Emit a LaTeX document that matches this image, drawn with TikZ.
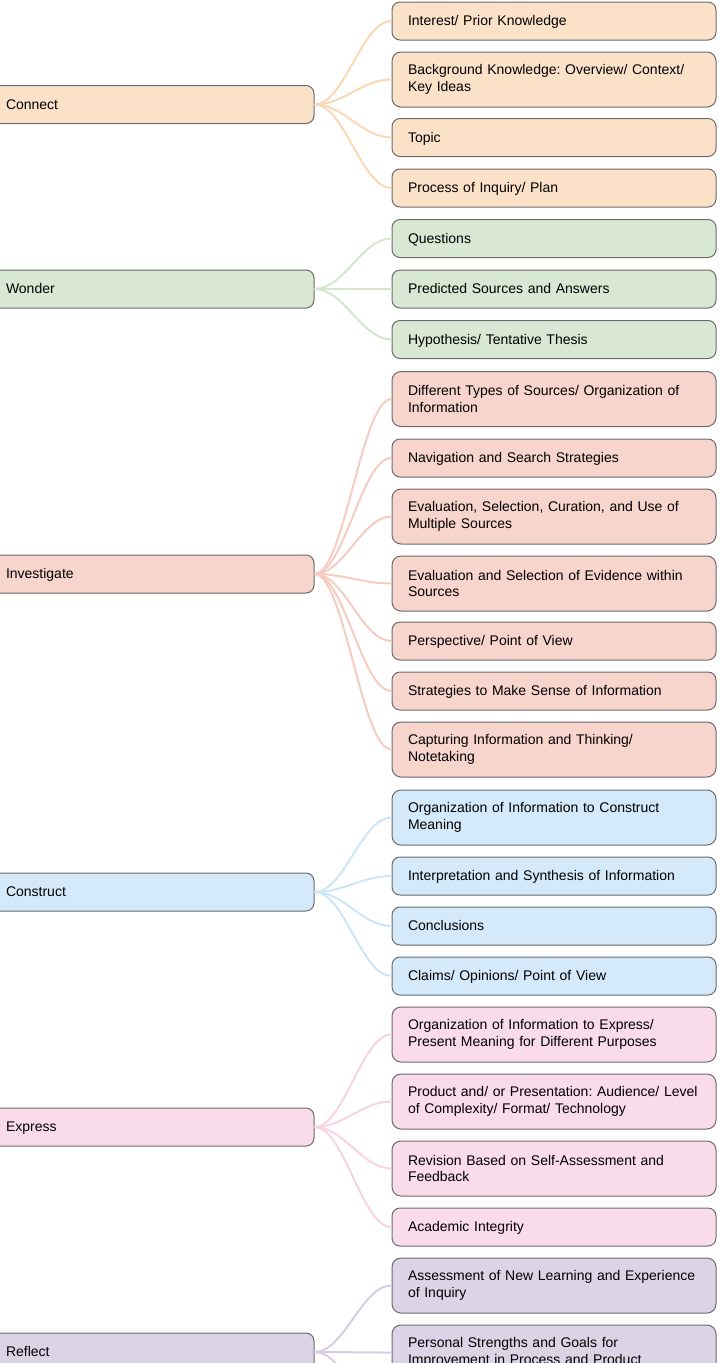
\documentclass[tikz,border=0pt]{standalone}
\usepackage{fontspec}
\setmainfont{Liberation Sans}
\frenchspacing
\definecolor{boxline}{HTML}{6B6B6B}
\definecolor{connectfill}{HTML}{FCE1C9}
\definecolor{connectline}{HTML}{FAD8B6}
\definecolor{wonderfill}{HTML}{D8E8D3}
\definecolor{wonderline}{HTML}{D4E6CD}
\definecolor{investfill}{HTML}{F7D4CC}
\definecolor{investline}{HTML}{F5CCC1}
\definecolor{constructfill}{HTML}{D4E9F9}
\definecolor{constructline}{HTML}{CCE6F8}
\definecolor{expressfill}{HTML}{F9DBEA}
\definecolor{expressline}{HTML}{F8D3E3}
\definecolor{reflectfill}{HTML}{DDD3E7}
\definecolor{reflectline}{HTML}{D8CCE5}
\begin{document}
\begin{tikzpicture}[x=1pt, y=-1pt,
		box/.style={draw=boxline, line width=1pt, rounded corners=8pt, text width=292pt, inner xsep=16pt, inner ysep=2pt, align=left, minimum height=38pt, font=\fontsize{14}{16.8}\selectfont},
		leaf/.style={box, text height=11.5pt, text depth=2.5pt},
		tall/.style={box, minimum height=55pt, rounded corners=9pt},
		link/.style={line width=2pt}]
				\useasboundingbox (0,0) rectangle (720,1363);
				\clip (0,0) rectangle (720,1363);
				% Connect
				\node[leaf, fill=connectfill] (connect) at (152,104.5) {Connect};
				\node[leaf, fill=connectfill] (c1) at (554,21) {Interest/ Prior Knowledge};
				\node[tall, fill=connectfill] (c2) at (554,79.5) {Background Knowledge: Overview/ Context/\\Key Ideas};
				\node[leaf, fill=connectfill] (c3) at (554,137.5) {Topic};
				\node[leaf, fill=connectfill] (c4) at (554,188) {Process of Inquiry/ Plan};
				% Wonder
				\node[leaf, fill=wonderfill] (wonder) at (152,289) {Wonder};
				\node[leaf, fill=wonderfill] (w1) at (554,238.5) {Questions};
				\node[leaf, fill=wonderfill] (w2) at (554,289) {Predicted Sources and Answers};
				\node[leaf, fill=wonderfill] (w3) at (554,339.5) {Hypothesis/ Tentative Thesis};
				% Investigate
				\node[leaf, fill=investfill] (invest) at (152,574) {Investigate};
				\node[tall, fill=investfill] (i1) at (554,399) {Different Types of Sources/ Organization of\\Information};
				\node[leaf, fill=investfill] (i2) at (554,458) {Navigation and Search Strategies};
				\node[tall, fill=investfill] (i3) at (554,516.5) {Evaluation, Selection, Curation, and Use of\\Multiple Sources};
				\node[tall, fill=investfill] (i4) at (554,583.5) {Evaluation and Selection of Evidence within\\Sources};
				\node[leaf, fill=investfill] (i5) at (554,641) {Perspective/ Point of View};
				\node[leaf, fill=investfill] (i6) at (554,691) {Strategies to Make Sense of Information};
				\node[tall, fill=investfill] (i7) at (554,749.5) {Capturing Information and Thinking/\\Notetaking};
				% Construct
				\node[leaf, fill=constructfill] (construct) at (152,892) {Construct};
				\node[tall, fill=constructfill] (k1) at (554,817.5) {Organization of Information to Construct\\Meaning};
				\node[leaf, fill=constructfill] (k2) at (554,876) {Interpretation and Synthesis of Information};
				\node[leaf, fill=constructfill] (k3) at (554,926) {Conclusions};
				\node[leaf, fill=constructfill] (k4) at (554,976) {Claims/ Opinions/ Point of View};
				% Express
				\node[leaf, fill=expressfill] (express) at (152,1127) {Express};
				\node[tall, fill=expressfill] (e1) at (554,1034.5) {Organization of Information to Express/\\Present Meaning for Different Purposes};
				\node[tall, fill=expressfill] (e2) at (554,1101.5) {Product and/ or Presentation: Audience/ Level\\of Complexity/ Format/ Technology};
				\node[tall, fill=expressfill] (e3) at (554,1168.5) {Revision Based on Self-Assessment and\\Feedback};
				\node[leaf, fill=expressfill] (e4) at (554,1227) {Academic Integrity};
				% Reflect
				\node[leaf, fill=reflectfill] (reflect) at (152,1352) {Reflect};
				\node[tall, fill=reflectfill] (r1) at (554,1285.5) {Assessment of New Learning and Experience\\of Inquiry};
				\node[tall, fill=reflectfill] (r2) at (554,1352.5) {Personal Strengths and Goals for\\Improvement in Process and Product};
				\coordinate (r3) at (392,1419);
				% branches
				\draw[link, connectline] (connect.east) .. controls +(30,0) and +(-30,0) .. (c1.west);
				\draw[link, connectline] (connect.east) .. controls +(30,0) and +(-30,0) .. (c2.west);
				\draw[link, connectline] (connect.east) .. controls +(30,0) and +(-30,0) .. (c3.west);
				\draw[link, connectline] (connect.east) .. controls +(30,0) and +(-30,0) .. (c4.west);
				\draw[link, wonderline] (wonder.east) .. controls +(30,0) and +(-30,0) .. (w1.west);
				\draw[link, wonderline] (wonder.east) -- (w2.west);
				\draw[link, wonderline] (wonder.east) .. controls +(30,0) and +(-30,0) .. (w3.west);
				\draw[link, investline] (invest.east) .. controls +(30,0) and +(-30,0) .. (i1.west);
				\draw[link, investline] (invest.east) .. controls +(30,0) and +(-30,0) .. (i2.west);
				\draw[link, investline] (invest.east) .. controls +(30,0) and +(-30,0) .. (i3.west);
				\draw[link, investline] (invest.east) .. controls +(30,0) and +(-30,0) .. (i4.west);
				\draw[link, investline] (invest.east) .. controls +(30,0) and +(-30,0) .. (i5.west);
				\draw[link, investline] (invest.east) .. controls +(30,0) and +(-30,0) .. (i6.west);
				\draw[link, investline] (invest.east) .. controls +(30,0) and +(-30,0) .. (i7.west);
				\draw[link, constructline] (construct.east) .. controls +(30,0) and +(-30,0) .. (k1.west);
				\draw[link, constructline] (construct.east) .. controls +(30,0) and +(-30,0) .. (k2.west);
				\draw[link, constructline] (construct.east) .. controls +(30,0) and +(-30,0) .. (k3.west);
				\draw[link, constructline] (construct.east) .. controls +(30,0) and +(-30,0) .. (k4.west);
				\draw[link, expressline] (express.east) .. controls +(30,0) and +(-30,0) .. (e1.west);
				\draw[link, expressline] (express.east) .. controls +(30,0) and +(-30,0) .. (e2.west);
				\draw[link, expressline] (express.east) .. controls +(30,0) and +(-30,0) .. (e3.west);
				\draw[link, expressline] (express.east) .. controls +(30,0) and +(-30,0) .. (e4.west);
				\draw[link, reflectline] (reflect.east) .. controls +(30,0) and +(-30,0) .. (r1.west);
				\draw[link, reflectline] (reflect.east) .. controls +(30,0) and +(-30,0) .. (r2.west);
				\draw[link, reflectline] (reflect.east) .. controls +(30,0) and +(-30,0) .. (r3);
			\end{tikzpicture}
\end{document}
